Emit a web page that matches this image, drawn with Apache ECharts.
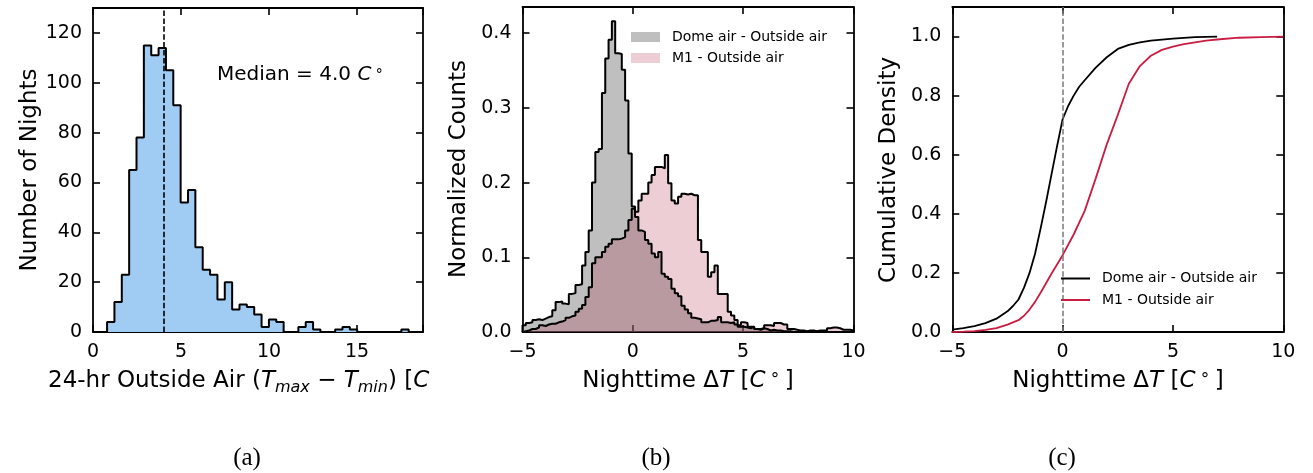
<!DOCTYPE html>
<html>
<head>
<meta charset="UTF-8">
<title>Nighttime temperature differences</title>
<script type="text/javascript" src="https://cdn.jsdelivr.net/npm/echarts@6/dist/echarts.min.js"></script>
<style type="text/css">
	html, body { margin: 0; padding: 0; background: #fff; }
	#main { width: 1313px; height: 473px; }
</style>
</head>
<body>
<div id="main"></div>
<script type="text/javascript">
	// (a) 24-hr outside air range, counts per bin
	var rangeBinStart = 0.8;
	var rangeBinWidth = 0.418;
	var rangeCounts = [4, 12, 23, 65, 78, 115, 111, 114, 105, 91, 52, 57, 34, 25, 23, 13, 20, 9, 11, 10,
		7, 2, 5, 4, 0, 0, 2, 4, 1, 0, 0, 1, 2, 1, 0, 0, 0, 0, 0, 0, 1];
	var rangeMedian = 4.0;

	// (b) nighttime delta T, normalized counts per bin
	var deltaBinStart = -5;
	var deltaBinWidth = 0.15;
	var domeDensity = [
		0.009, 0.012, 0.013, 0.016, 0.017, 0.016, 0.018, 0.020, 0.021, 0.029,
		0.040, 0.041, 0.038, 0.037, 0.051, 0.052, 0.063, 0.064, 0.089, 0.107,
		0.136, 0.200, 0.241, 0.245, 0.320, 0.366, 0.391, 0.416, 0.373, 0.372,
		0.351, 0.310, 0.239, 0.168, 0.154, 0.136, 0.134, 0.123, 0.118, 0.105,
		0.100, 0.107, 0.078, 0.074, 0.071, 0.058, 0.052, 0.048, 0.035, 0.030,
		0.025, 0.019, 0.018, 0.017, 0.013, 0.013, 0.015, 0.015, 0.016, 0.020,
		0.013, 0.013, 0.012, 0.013, 0.010, 0.007, 0.007, 0.006, 0.005, 0.007,
		0.004, 0.003, 0.005, 0.004, 0.002, 0.003, 0.002, 0.002, 0.001, 0.001,
		0.001, 0, 0, 0, 0, 0, 0, 0, 0, 0,
		0, 0, 0, 0, 0, 0, 0, 0, 0, 0];
	var m1Density = [
		0.001, 0.002, 0.004, 0.004, 0.006, 0.009, 0.008, 0.010, 0.011, 0.011,
		0.013, 0.014, 0.016, 0.019, 0.021, 0.022, 0.027, 0.031, 0.036, 0.047,
		0.060, 0.092, 0.100, 0.100, 0.107, 0.114, 0.118, 0.124, 0.124, 0.125,
		0.127, 0.136, 0.150, 0.165, 0.161, 0.176, 0.185, 0.185, 0.200, 0.210,
		0.221, 0.221, 0.219, 0.237, 0.199, 0.176, 0.172, 0.181, 0.185, 0.184,
		0.185, 0.183, 0.183, 0.123, 0.107, 0.107, 0.074, 0.080, 0.089, 0.051,
		0.051, 0.051, 0.027, 0.022, 0.016, 0.009, 0.013, 0.012, 0.007, 0.007,
		0.004, 0.004, 0.005, 0.009, 0.009, 0.008, 0.012, 0.012, 0.010, 0.010,
		0.004, 0.004, 0.003, 0.002, 0.002, 0.001, 0.002, 0.002, 0.001, 0.002,
		0.002, 0.002, 0.005, 0.006, 0.006, 0.005, 0.003, 0.003, 0.003, 0.002];

	// (c) cumulative density
	var domeCdfX = [-5, -4.5, -4, -3.5, -3, -2.5, -2.25, -2, -1.75, -1.5, -1.25, -1, -0.75, -0.5, -0.25,
		0, 0.25, 0.5, 0.75, 1, 1.5, 2, 2.5, 3, 3.5, 4, 5, 6, 7];
	var domeCdfY = [0.008, 0.013, 0.02, 0.03, 0.045, 0.07, 0.088, 0.11, 0.15, 0.2, 0.265, 0.35, 0.44, 0.535, 0.63,
		0.72, 0.765, 0.8, 0.83, 0.852, 0.895, 0.93, 0.958, 0.972, 0.98, 0.986, 0.993, 0.998, 1.0];
	var m1CdfX = [-5, -4.5, -4, -3.5, -3, -2.5, -2, -1.75, -1.5, -1.25, -1, -0.5, 0, 0.5, 1, 1.5,
		2, 2.5, 3, 3.5, 4, 4.5, 5, 5.5, 6, 6.5, 7, 8, 9, 10];
	var m1CdfY = [0.0, 0.001, 0.003, 0.007, 0.013, 0.025, 0.04, 0.055, 0.076, 0.102, 0.133, 0.198, 0.26, 0.33, 0.41, 0.52,
		0.635, 0.735, 0.84, 0.9, 0.935, 0.955, 0.966, 0.974, 0.98, 0.986, 0.99, 0.996, 0.998, 1.0];

	var seriesNames = ['Dome air - Outside air', 'M1 - Outside air'];

	// step outline for a histogram: drops to zero at both ends
	function stepPoints(start, width, values) {
		var pts = [[start, 0]];
		for (var i = 0; i < values.length; i++) {
			pts.push([start + i * width, values[i]]);
		}
		var end = start + values.length * width;
		pts.push([end, values[values.length - 1]]);
		pts.push([end, 0]);
		return pts;
	}

	function zip(xs, ys) {
		var out = [];
		for (var i = 0; i < xs.length; i++) out.push([xs[i], ys[i]]);
		return out;
	}

	var FONT = 'DejaVu Sans';

	function tickFormatter(step, digits) {
		return function (v) {
			var r = v / step;
			if (Math.abs(r - Math.round(r)) > 1e-6) return '';
			var s = v.toFixed(digits);
			if (v < 0) s = '\u2212' + Math.abs(v).toFixed(digits);
			return s;
		};
	}

	function makeAxis(gridIndex, pos, min, max, step, digits, showLabel) {
		return {
			type: 'value',
			gridIndex: gridIndex,
			position: pos,
			min: min,
			max: max,
			interval: step,
			axisLine: { show: true, onZero: false, lineStyle: { color: '#000', width: 1.8 } },
			axisTick: { show: true, inside: true, length: 7, lineStyle: { color: '#000', width: 1.6 } },
			splitLine: { show: false },
			axisLabel: {
				show: showLabel,
				inside: false,
				margin: 11,
				color: '#000',
				fontFamily: FONT,
				fontSize: 19,
				formatter: tickFormatter(step, digits)
			}
		};
	}

	var xAxes = [
		makeAxis(0, 'bottom', 0, 18.75, 5, 0, true),
		makeAxis(0, 'top', 0, 18.75, 5, 0, false),
		makeAxis(1, 'bottom', -5, 10, 5, 0, true),
		makeAxis(1, 'top', -5, 10, 5, 0, false),
		makeAxis(2, 'bottom', -5, 10, 5, 0, true),
		makeAxis(2, 'top', -5, 10, 5, 0, false)
	];
	var yAxes = [
		makeAxis(0, 'left', 0, 130, 20, 0, true),
		makeAxis(0, 'right', 0, 130, 20, 0, false),
		makeAxis(1, 'left', 0, 0.435, 0.1, 1, true),
		makeAxis(1, 'right', 0, 0.435, 0.1, 1, false),
		makeAxis(2, 'left', 0, 1.1, 0.2, 1, true),
		makeAxis(2, 'right', 0, 1.1, 0.2, 1, false)
	];

	var outline = { color: '#000', width: 2 };

	var series = [
		{
			name: 'Nights',
			type: 'line',
			xAxisIndex: 0, yAxisIndex: 0,
			step: 'end',
			symbol: 'none',
			data: stepPoints(rangeBinStart, rangeBinWidth, rangeCounts),
			lineStyle: outline,
			itemStyle: { color: '#000' },
			areaStyle: { color: '#a0cbf3', opacity: 1 },
			markLine: {
				silent: true,
				symbol: ['none', 'none'],
				label: { show: false },
				lineStyle: { color: '#000', width: 1.6, type: [5.5, 2.4] },
				data: [{ xAxis: rangeMedian }]
			}
		},
		{
			name: seriesNames[0],
			type: 'line',
			xAxisIndex: 2, yAxisIndex: 2,
			step: 'end',
			symbol: 'none',
			data: stepPoints(deltaBinStart, deltaBinWidth, domeDensity),
			lineStyle: outline,
			itemStyle: { color: '#000' },
			areaStyle: { color: 'rgba(128,128,128,0.5)', opacity: 1 }
		},
		{
			name: seriesNames[1],
			type: 'line',
			xAxisIndex: 2, yAxisIndex: 2,
			step: 'end',
			symbol: 'none',
			data: stepPoints(deltaBinStart, deltaBinWidth, m1Density),
			lineStyle: outline,
			itemStyle: { color: '#000' },
			areaStyle: { color: 'rgba(160,10,40,0.2)', opacity: 1 }
		},
		{
			name: seriesNames[0] + ' cdf',
			type: 'line',
			xAxisIndex: 4, yAxisIndex: 4,
			symbol: 'none',
			smooth: false,
			data: zip(domeCdfX, domeCdfY),
			lineStyle: { color: '#000', width: 1.8 },
			itemStyle: { color: '#000' },
			markLine: {
				silent: true,
				symbol: ['none', 'none'],
				label: { show: false },
				lineStyle: { color: '#7a7a7a', width: 1.5, type: [5.5, 2.4] },
				data: [{ xAxis: 0 }]
			}
		},
		{
			name: seriesNames[1] + ' cdf',
			type: 'line',
			xAxisIndex: 4, yAxisIndex: 4,
			symbol: 'none',
			smooth: false,
			data: zip(m1CdfX, m1CdfY),
			lineStyle: { color: '#c91d42', width: 1.8 },
			itemStyle: { color: '#c91d42' }
		}
	];

	var titleSize = 23;
	var rich = {
		n: { fontFamily: FONT, fontSize: titleSize, lineHeight: 30, verticalAlign: 'middle', color: '#000' },
		i: { fontFamily: FONT, fontSize: titleSize, fontStyle: 'italic', lineHeight: 30, verticalAlign: 'middle', color: '#000' },
		s: { fontFamily: FONT, fontSize: 16, fontStyle: 'italic', lineHeight: 16, verticalAlign: 'bottom', color: '#000' },
		d: { fontFamily: FONT, fontSize: 17, lineHeight: 30, verticalAlign: 'middle', color: '#000' }
	};

	function title(x, y, text, rotate, align) {
		return {
			type: 'text',
			x: x, y: y,
			rotation: rotate ? Math.PI / 2 : 0,
			z: 100,
			style: {
				text: text,
				rich: rich,
				align: align || 'center',
				verticalAlign: 'middle'
			}
		};
	}

	function legendText(x, y, text) {
		return {
			type: 'text', x: x, y: y, z: 100,
			style: { text: text, fontFamily: FONT, fontSize: 14, fill: '#000', align: 'left', verticalAlign: 'middle' }
		};
	}

	function caption(x, text) {
		return {
			type: 'text', x: x, y: 458, z: 100,
			style: { text: text, fontFamily: 'Liberation Serif', fontSize: 25, fill: '#000', align: 'center', verticalAlign: 'middle' }
		};
	}

	var graphics = [
		title(30, 170, '{n|Number of Nights}', true),
		title(48, 381, '{n|24-hr Outside Air (}{i|T}{s|max}{n| \u2212 }{i|T}{s|min}{n|) [}{i|C}', false, 'left'),
		title(459, 169, '{n|Normalized Counts}', true),
		title(688, 381, '{n|Nighttime \u0394}{i|T}{n| [}{i|C}{d| \u00b0 }{n|]}', false),
		title(889, 170, '{n|Cumulative Density}', true),
		title(1118, 381, '{n|Nighttime \u0394}{i|T}{n| [}{i|C}{d| \u00b0 }{n|]}', false),
		{
			type: 'text', x: 217, y: 75, z: 100,
			style: {
				text: '{m|Median = 4.0 }{c|C}{g| \u00b0}',
				align: 'left', verticalAlign: 'middle',
				rich: {
					m: { fontFamily: FONT, fontSize: 20, color: '#000' },
					c: { fontFamily: FONT, fontSize: 20, fontStyle: 'italic', color: '#000' },
					g: { fontFamily: FONT, fontSize: 14, color: '#000' }
				}
			}
		},
		// legend of (b)
		{ type: 'rect', z: 100, shape: { x: 631, y: 32, width: 29, height: 10 }, style: { fill: 'rgba(128,128,128,0.5)' } },
		legendText(672, 37, seriesNames[0]),
		{ type: 'rect', z: 100, shape: { x: 631, y: 53, width: 29, height: 10 }, style: { fill: 'rgba(160,10,40,0.2)' } },
		legendText(672, 58, seriesNames[1]),
		// legend of (c)
		{ type: 'line', z: 100, shape: { x1: 1061, y1: 278.5, x2: 1090, y2: 278.5 }, style: { stroke: '#000', lineWidth: 2 } },
		legendText(1102, 278, seriesNames[0]),
		{ type: 'line', z: 100, shape: { x1: 1061, y1: 300, x2: 1090, y2: 300 }, style: { stroke: '#c91d42', lineWidth: 2 } },
		legendText(1102, 300, seriesNames[1]),
		caption(247, '(a)'),
		caption(656, '(b)'),
		caption(1062, '(c)')
	];

	var myChart = echarts.init(document.getElementById('main'), null, { renderer: 'canvas' });
	var option = {
		animation: false,
		backgroundColor: '#fff',
		grid: [
			{ left: 93, top: 8, width: 330, height: 324, outerBoundsMode: 'none' },
			{ left: 522.5, top: 7, width: 331, height: 325, outerBoundsMode: 'none' },
			{ left: 952.3, top: 7, width: 331, height: 325, outerBoundsMode: 'none' }
		],
		xAxis: xAxes,
		yAxis: yAxes,
		series: series,
		graphic: graphics
	};
	myChart.setOption(option);
</script>
</body>
</html>
